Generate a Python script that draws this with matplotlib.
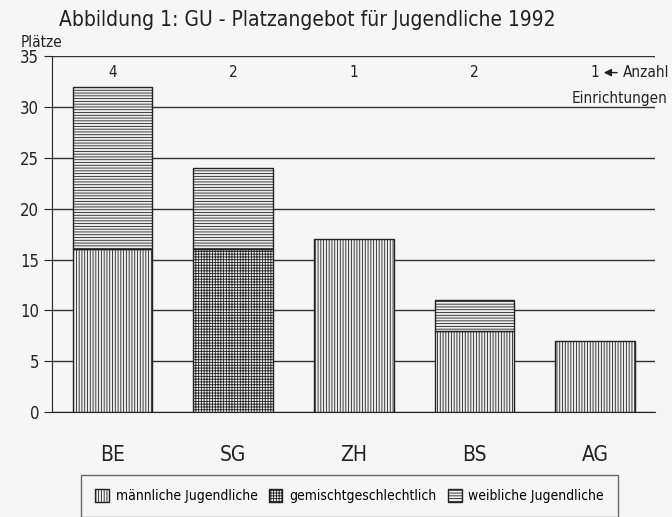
import matplotlib

matplotlib.use("Agg")
import matplotlib.pyplot as plt
from matplotlib import font_manager
import numpy as np

plt.rcParams["font.family"] = ["DejaVu Sans"]
plt.rcParams["hatch.linewidth"] = 0.6

cantons = ["BE", "SG", "ZH", "BS", "AG"]
maennlich = [16, 0, 17, 8, 7]
gemischt = [0, 16, 0, 0, 0]
weiblich = [16, 8, 0, 3, 0]
anzahl = [4, 2, 1, 2, 1]
y_ticks = [0, 5, 10, 15, 20, 25, 30, 35]

# the scan uses a narrow face; take the condensed one if it is installed
cond = font_manager.findfont(font_manager.FontProperties(family="DejaVu Sans", stretch="condensed"))
if "Condensed" in cond:
    plt.rcParams["font.stretch"] = "condensed"
else:
    plt.rcParams["font.family"] = ["Liberation Sans", "DejaVu Sans"]

bg = "#f6f6f6"
ink = "#222222"
fig = plt.figure(figsize=(6.72, 5.17), dpi=100, facecolor=bg)
ax = fig.add_axes([0.078, 0.203, 0.897, 0.688])
ax.set_facecolor(bg)

x = np.arange(len(cantons))
width = 0.66
bottom = np.zeros(len(cantons))
series = [
    (maennlich, "||||||", "männliche Jugendliche"),
    (gemischt, "++++++", "gemischtgeschlechtlich"),
    (weiblich, "------", "weibliche Jugendliche"),
]
handles = []
for vals, hatch, label in series:
    vals = np.array(vals, dtype=float)
    mask = vals > 0
    bars = ax.bar(x[mask], vals[mask], width, bottom=bottom[mask], color="#eeeeee",
                  edgecolor=ink, hatch=hatch, linewidth=1.0, label=label, zorder=3)
    handles.append(bars)
    bottom += vals

for xi, n in zip(x, anzahl):
    ax.text(xi, 33.4, str(n), ha="center", va="center", fontsize=11, color=ink)
ax.annotate("Anzahl", xy=(4.05, 33.4), xytext=(4.23, 33.4), fontsize=11,
            va="center", ha="left", color=ink,
            arrowprops=dict(arrowstyle="-|>", color=ink, lw=1.0))
ax.text(4.6, 30.9, "Einrichtungen", fontsize=11, ha="right", va="center", color=ink)

ax.set_xlim(-0.5, 4.5)
ax.set_ylim(0, 35)
ax.set_yticks(y_ticks)
ax.set_xticks(x, cantons)
ax.tick_params(axis="x", length=0, labelsize=15, pad=24, colors=ink)
ax.tick_params(axis="y", direction="out", length=6, labelsize=12, colors=ink)
ax.yaxis.grid(True, color="#333333", linewidth=1.0, zorder=0)
ax.set_axisbelow(True)
for side in ["top", "right"]:
    ax.spines[side].set_visible(False)
ax.spines["left"].set_color(ink)
ax.spines["bottom"].set_color(ink)

fig.text(0.03, 0.918, "Plätze", fontsize=11, ha="left", va="center", color=ink)
fig.text(0.088, 0.962, "Abbildung 1: GU - Platzangebot für Jugendliche 1992", fontsize=15,
         ha="left", va="center", color=ink)

leg = fig.legend(handles=handles, loc="lower center", bbox_to_anchor=(0.52, 0.0),
                 ncol=3, fontsize=10, frameon=True, fancybox=False,
                 handlelength=1.0, handleheight=1.0, handletextpad=0.5, borderaxespad=0,
                 borderpad=1.0, columnspacing=0.8)
leg.get_frame().set_edgecolor("#444444")
leg.get_frame().set_facecolor(bg)

fig.savefig("out.png", dpi=100, facecolor=bg)
